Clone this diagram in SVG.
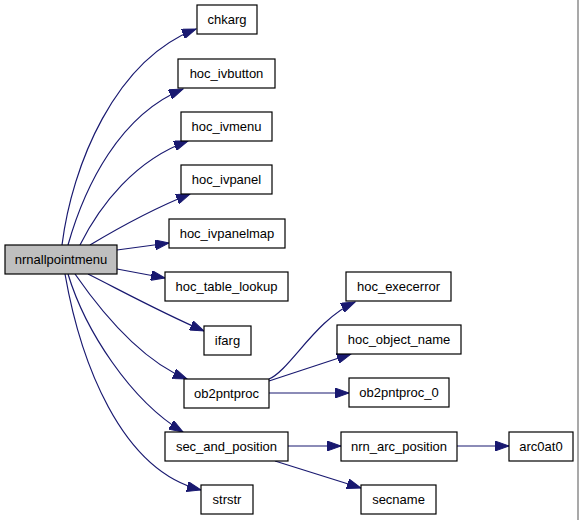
<svg xmlns="http://www.w3.org/2000/svg" width="579" height="520" viewBox="0 0 579 520">
<defs>
<marker id="ah" markerWidth="15" markerHeight="10" refX="14" refY="5" orient="auto" markerUnits="userSpaceOnUse">
<path d="M0,0 L14,5 L0,10 Z" fill="#191970" stroke="#191970"/>
</marker>
</defs>
<style>
.n rect{fill:#fff;stroke:#000;stroke-width:1.2}
.n text{font-family:"Liberation Sans",Arial,sans-serif;font-size:13px;fill:#000;text-anchor:middle}
#edges path{fill:none;stroke:#191970;stroke-width:1.2;marker-end:url(#ah)}
</style>
<rect x="0" y="0" width="579" height="520" fill="#fff"/>
<line x1="578" y1="0" x2="578" y2="520" stroke="#8c8c8c" stroke-width="1.5"/>
<g id="edges">
<path d="M62,245 C72,165 115,60 196,29"/>
<path d="M68,245 C85,185 120,115 183,89"/>
<path d="M80,245 C100,205 135,160 188,141"/>
<path d="M90,245 C115,230 150,210 190,194"/>
<path d="M117,250 L169,243"/>
<path d="M117,269 L165,278"/>
<path d="M88,274 C120,290 160,312 204,331"/>
<path d="M75,274 C100,310 140,360 187,379"/>
<path d="M68,274 C85,330 130,400 183,432"/>
<path d="M65,274 C80,360 120,470 201,490"/>
<path d="M269,379 C290,370 315,320 355,302"/>
<path d="M269,381 L351,354"/>
<path d="M269,393 L349,393"/>
<path d="M288,446 L341,446"/>
<path d="M457,446 L509,446"/>
<path d="M275,461 L361,488"/>
</g>
<g id="nrnallpointmenu" class="n"><rect x="5" y="245" width="112" height="29" style="fill:#bfbfbf"/><text x="61" y="264">nrnallpointmenu</text></g>
<g id="chkarg" class="n"><rect x="197" y="5" width="60" height="29"/><text x="227" y="24">chkarg</text></g>
<g id="hoc_ivbutton" class="n"><rect x="178" y="59" width="97" height="29"/><text x="226.5" y="78">hoc_ivbutton</text></g>
<g id="hoc_ivmenu" class="n"><rect x="181" y="112" width="91" height="29"/><text x="226.5" y="131">hoc_ivmenu</text></g>
<g id="hoc_ivpanel" class="n"><rect x="181" y="165" width="91" height="29"/><text x="226.5" y="184">hoc_ivpanel</text></g>
<g id="hoc_ivpanelmap" class="n"><rect x="169" y="219" width="116" height="29"/><text x="227" y="238">hoc_ivpanelmap</text></g>
<g id="hoc_table_lookup" class="n"><rect x="165" y="272" width="123" height="29"/><text x="226.5" y="291">hoc_table_lookup</text></g>
<g id="ifarg" class="n"><rect x="204" y="326" width="47" height="29"/><text x="227.5" y="345">ifarg</text></g>
<g id="ob2pntproc" class="n"><rect x="184" y="379" width="85" height="29"/><text x="226.5" y="398">ob2pntproc</text></g>
<g id="sec_and_position" class="n"><rect x="165" y="432" width="123" height="29"/><text x="226.5" y="451">sec_and_position</text></g>
<g id="strstr" class="n"><rect x="201" y="485" width="52" height="29"/><text x="227" y="504">strstr</text></g>
<g id="hoc_execerror" class="n"><rect x="346" y="272" width="105" height="29"/><text x="398.5" y="291">hoc_execerror</text></g>
<g id="hoc_object_name" class="n"><rect x="337" y="325" width="124" height="29"/><text x="399" y="344">hoc_object_name</text></g>
<g id="ob2pntproc_0" class="n"><rect x="349" y="378" width="100" height="29"/><text x="399" y="397">ob2pntproc_0</text></g>
<g id="nrn_arc_position" class="n"><rect x="341" y="432" width="116" height="29"/><text x="399" y="451">nrn_arc_position</text></g>
<g id="arc0at0" class="n"><rect x="509" y="432" width="64" height="29"/><text x="541" y="451">arc0at0</text></g>
<g id="secname" class="n"><rect x="361" y="485" width="75" height="29"/><text x="398.5" y="504">secname</text></g>
</svg>
